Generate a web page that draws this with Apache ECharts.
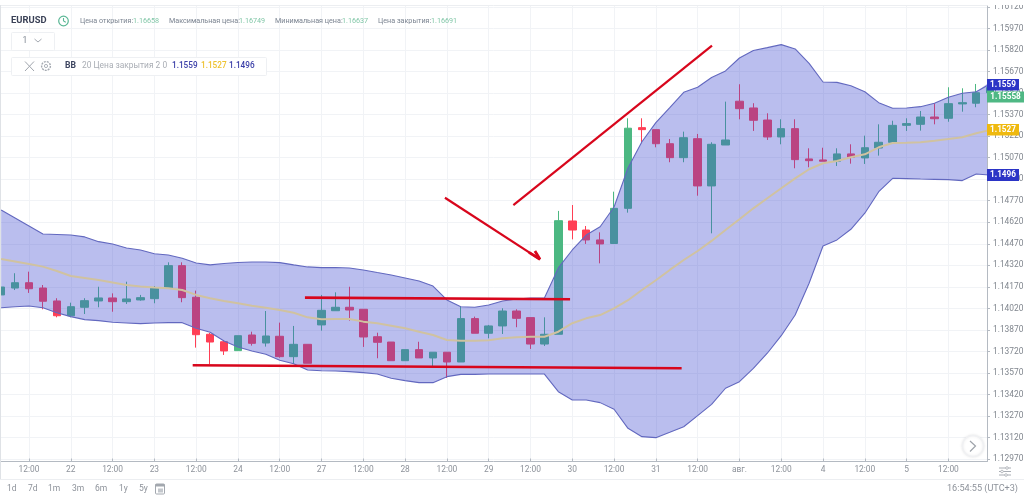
<!DOCTYPE html>
<html><head><meta charset="utf-8">
<style>html,body{margin:0;padding:0;background:#fff}#c{width:1024px;height:499px}</style>
<script src="https://cdn.jsdelivr.net/npm/echarts@6/dist/echarts.min.js"></script>
</head><body><div id="c"></div>
<script>
const opens=[1.14114,1.14162,1.14199,1.14162,1.14072,1.13969,1.14028,1.14072,1.14093,1.14067,1.14079,1.14088,1.14160,1.14318,1.14098,1.13840,1.13788,1.13726,1.13835,1.13779,1.13826,1.13684,1.13770,1.13905,1.14004,1.14028,1.14014,1.13823,1.13786,1.13656,1.13733,1.13675,1.13715,1.13647,1.13949,1.13847,1.13898,1.14002,1.13956,1.13772,1.13840,1.14629,1.14566,1.14497,1.14472,1.14717,1.15279,1.15265,1.15167,1.15070,1.15202,1.14873,1.15158,1.15463,1.15416,1.15332,1.15214,1.15272,1.15061,1.15054,1.15045,1.15096,1.15068,1.15137,1.15177,1.15295,1.15302,1.15353,1.15344,1.15444,1.15449,1.15522];
const closes=[1.14169,1.14199,1.14157,1.14070,1.13969,1.14032,1.14074,1.14093,1.14067,1.14086,1.14095,1.14160,1.14318,1.14095,1.13837,1.13786,1.13724,1.13830,1.13777,1.13828,1.13684,1.13770,1.13638,1.14007,1.14028,1.14009,1.13821,1.13784,1.13656,1.13733,1.13675,1.13715,1.13647,1.13949,1.13847,1.13898,1.14002,1.13951,1.13772,1.13840,1.14631,1.14566,1.14497,1.14469,1.14717,1.15275,1.15265,1.15167,1.15070,1.15209,1.14873,1.15163,1.15193,1.15411,1.15330,1.15214,1.15272,1.15056,1.15049,1.15045,1.15096,1.15073,1.15139,1.15177,1.15295,1.15307,1.15353,1.15341,1.15446,1.15453,1.15522,1.15558];
const lows=[1.14114,1.14148,1.14128,1.14014,1.13958,1.13958,1.13981,1.14028,1.13997,1.14051,1.14074,1.14056,1.14160,1.14063,1.13747,1.13633,1.13696,1.13726,1.13761,1.13754,1.13677,1.13633,1.13638,1.13865,1.14004,1.13935,1.13752,1.13673,1.13656,1.13656,1.13675,1.13619,1.13536,1.13647,1.13847,1.13812,1.13842,1.13889,1.13738,1.13758,1.13840,1.14501,1.14469,1.14334,1.14472,1.14687,1.15170,1.15142,1.15038,1.15038,1.14805,1.14543,1.15158,1.15337,1.15256,1.15193,1.15163,1.14996,1.15003,1.15045,1.15012,1.15028,1.15026,1.15084,1.15177,1.15256,1.15258,1.15302,1.15320,1.15390,1.15421,1.15513];
const highs=[1.14169,1.14265,1.14276,1.14183,1.14091,1.14060,1.14091,1.14171,1.14125,1.14206,1.14114,1.14176,1.14341,1.14341,1.14144,1.13849,1.13800,1.13830,1.13858,1.14002,1.13921,1.13898,1.13770,1.14114,1.14132,1.14171,1.14014,1.13851,1.13786,1.13733,1.13788,1.13715,1.13715,1.14032,1.13963,1.13905,1.14021,1.14014,1.13956,1.13958,1.14699,1.14740,1.14594,1.14550,1.14833,1.15344,1.15344,1.15265,1.15200,1.15251,1.15235,1.15177,1.15460,1.15581,1.15449,1.15379,1.15337,1.15337,1.15135,1.15139,1.15135,1.15163,1.15223,1.15302,1.15327,1.15344,1.15395,1.15449,1.15560,1.15553,1.15583,1.15597];
const bbUpper=[1.14706,1.14650,1.14594,1.14538,1.14535,1.14531,1.14518,1.14485,1.14469,1.14441,1.14427,1.14401,1.14392,1.14369,1.14336,1.14323,1.14333,1.14340,1.14343,1.14343,1.14339,1.14323,1.14309,1.14304,1.14305,1.14302,1.14288,1.14270,1.14253,1.14232,1.14211,1.14176,1.14079,1.14032,1.14028,1.14044,1.14072,1.14086,1.14093,1.14093,1.14302,1.14427,1.14531,1.14589,1.14726,1.14998,1.15181,1.15314,1.15419,1.15525,1.15560,1.15628,1.15674,1.15764,1.15816,1.15836,1.15857,1.15827,1.15726,1.15597,1.15594,1.15571,1.15529,1.15453,1.15414,1.15416,1.15425,1.15449,1.15490,1.15518,1.15529,1.15583];
const bbLower=[1.14025,1.14032,1.14037,1.14025,1.13990,1.13963,1.13942,1.13935,1.13924,1.13919,1.13914,1.13919,1.13921,1.13921,1.13882,1.13854,1.13793,1.13752,1.13724,1.13701,1.13659,1.13635,1.13591,1.13586,1.13584,1.13580,1.13573,1.13563,1.13534,1.13517,1.13503,1.13503,1.13545,1.13561,1.13561,1.13563,1.13563,1.13563,1.13563,1.13563,1.13440,1.13382,1.13382,1.13364,1.13318,1.13185,1.13127,1.13120,1.13157,1.13196,1.13273,1.13352,1.13464,1.13510,1.13603,1.13708,1.13830,1.13974,1.14195,1.14455,1.14497,1.14571,1.14683,1.14833,1.14926,1.14924,1.14921,1.14919,1.14917,1.14910,1.14956,1.14949];
const bbMiddle=[1.14364,1.14347,1.14329,1.14311,1.14281,1.14246,1.14232,1.14218,1.14201,1.14183,1.14173,1.14165,1.14160,1.14148,1.14114,1.14091,1.14072,1.14056,1.14039,1.14025,1.14009,1.13990,1.13958,1.13944,1.13946,1.13946,1.13928,1.13917,1.13900,1.13882,1.13858,1.13835,1.13800,1.13795,1.13795,1.13798,1.13812,1.13819,1.13823,1.13823,1.13858,1.13917,1.13951,1.13974,1.14021,1.14077,1.14148,1.14216,1.14288,1.14357,1.14420,1.14490,1.14566,1.14641,1.14717,1.14787,1.14857,1.14926,1.14989,1.15031,1.15047,1.15073,1.15093,1.15142,1.15172,1.15174,1.15177,1.15188,1.15200,1.15212,1.15240,1.15263];
const xTickIndex=[2,5,8,11,14,17,20,23,26,29,32,35,38,41,44,47,50,53,56,59,62,65,68];
const xTickLabels=['12:00','22','12:00','23','12:00','24','12:00','27','12:00','28','12:00','29','12:00','30','12:00','31','12:00','авг.','12:00','4','12:00','5','12:00'];
const yTicks=[1.1297,1.1312,1.1327,1.1342,1.1357,1.1372,1.1387,1.1402,1.1417,1.1432,1.1447,1.1462,1.1477,1.1492,1.1507,1.1522,1.1537,1.1552,1.1567,1.1582,1.1597,1.1612];
const lineFlat1=[[21.81,1.14095],[40.84,1.14084]];
const lineFlat2=[[13.75,1.13624],[48.85,1.13603]];
const lineRise=[[36.77,1.14740],[51.03,1.15850]];
const arrowShaft=[[31.86,1.14791],[38.68,1.14362]];
const arrowHead=[[37.89,1.14410],[38.68,1.14362],[38.32,1.14420]];
const quoteFields=[['Цена открытия:','1.16658'],['Максимальная цена:','1.16749'],['Минимальная цена:','1.16637'],['Цена закрытия:','1.16691']];
const bbValues=['1.1559','1.1527','1.1496'];
const lastPrice='1.15558';
const rangeButtons=['1d','7d','1m','3m','6m','1y','5y'];

const FONT='Roboto, sans-serif';
const idx=opens.map((_,i)=>i);
const pair=a=>a.map((v,i)=>[i,v]);
const candleData=idx.map(i=>[i,opens[i],closes[i],lows[i],highs[i]]);
const redLine=(data,w)=>({type:'line',data,showSymbol:false,symbol:'none',z:6,silent:true,
  lineStyle:{color:'#d8061c',width:w},itemStyle:{color:'#d8061c'}});

function txt(x,y,text,o){return Object.assign({type:'text',z:50,silent:true,x,y,
  style:Object.assign({text,fill:'#7f8792',font:'400 8px '+FONT,textVerticalAlign:'middle'},o||{})})}
function ln(x1,y1,x2,y2,c,w){return {type:'line',z:50,silent:true,shape:{x1,y1,x2,y2},style:{stroke:c||'#9aa0a8',lineWidth:w||1}}}
function box(x,y,w,h,fill,stroke,r,z){return {type:'rect',z:z||49,silent:true,shape:{x,y,width:w,height:h,r:r||0},style:{fill:fill,stroke:stroke||null,lineWidth:1}}}

const g=[];
g.push(box(0,0,1024,5,'#fff'));
g.push(ln(0,5.5,987,5.5,'#eceef1',1));
g.push(ln(0.5,5,0.5,479,'#dfe2e6',1));
g.push(box(987.5,462,37,37,'#fff'));
g.push(ln(0,479.5,1024,479.5,'#eceef1',1));
// header
g.push(txt(11,21,'EURUSD',{fill:'#3b4257',font:'700 9.4px '+FONT}));
g.push({type:'circle',z:50,silent:true,shape:{cx:63.5,cy:21,r:4.8},style:{fill:'none',stroke:'#5ab795',lineWidth:1.2}});
g.push(ln(63.5,18,63.5,21,'#5ab795',1.1));g.push(ln(63.5,21,65.8,22.2,'#5ab795',1.1));
const qx=[[80,133],[169,239],[275,342],[378,431]];
quoteFields.forEach((q,i)=>{g.push(txt(qx[i][0],21,q[0],{fill:'#7b8491',font:'400 7.2px '+FONT}));g.push(txt(qx[i][1],21,q[1],{fill:'#82c7a8',font:'400 7.2px '+FONT}));});
g.push(box(11.5,32.5,43,18,'#fff','#eef0f3',1));
g.push(txt(22.5,40.5,'1',{fill:'#7f8792',font:'400 8.5px '+FONT}));
g.push({type:'polyline',z:50,silent:true,shape:{points:[[34.5,39],[38,42],[41.5,39]]},style:{stroke:'#a5aab2',fill:'none',lineWidth:1}});
g.push(box(11.5,57.5,255,18,'#fff','#eef0f3',1));
g.push(ln(25,61.5,34,71,'#a0a5ad',1));g.push(ln(34,61.5,25,71,'#a0a5ad',1));
g.push({type:'circle',z:50,silent:true,shape:{cx:46,cy:66,r:4.4},style:{fill:'none',stroke:'#a5aab2',lineWidth:1.4,lineDash:[2,1]}});
g.push({type:'circle',z:50,silent:true,shape:{cx:46,cy:66,r:1.6},style:{fill:'none',stroke:'#a5aab2',lineWidth:0.9}});
g.push(txt(65,66,'BB',{fill:'#3d4560',font:'700 8.6px '+FONT}));
g.push(txt(82,66,'20 Цена закрытия 2 0',{fill:'#a9adb4',font:'400 8.4px '+FONT}));
g.push(txt(172,66,bbValues[0],{fill:'#3b3fa8',font:'500 8.2px '+FONT}));
g.push(txt(201,66,bbValues[1],{fill:'#eec22f',font:'500 8.2px '+FONT}));
g.push(txt(229,66,bbValues[2],{fill:'#3b3fa8',font:'500 8.2px '+FONT}));
// price tags
function tag(y0,h,w,fill,t){g.push(box(987,y0,w,h,fill,null,0,60));
  const e=txt(987+w/2,y0+h/2,t,{fill:'#fff',font:'700 8.2px '+FONT,textAlign:'center'});e.z=61;g.push(e);}
tag(79,11.5,32,'#2b34c6',bbValues[0]);
tag(91.5,11,37,'#4fb884',lastPrice);
tag(124,11.5,32,'#efb90f',bbValues[1]);
tag(169,12,32,'#2b34c6',bbValues[2]);
// next button
g.push({type:'circle',z:50,silent:true,shape:{cx:973,cy:446,r:10.5},style:{fill:'#fff',stroke:'#f0f1f3',lineWidth:1.5,shadowBlur:3,shadowColor:'rgba(0,0,0,0.08)'}});
g.push({type:'polyline',z:51,silent:true,shape:{points:[[970,441],[975.5,446],[970,451.5]]},style:{stroke:'#9ea3aa',fill:'none',lineWidth:1.2}});
// bottom row
const bx=[7,28,48,72,95,119,139];
rangeButtons.forEach((b,i)=>g.push(txt(bx[i],489,b,{fill:'#8d929a',font:'400 8.5px '+FONT})));
g.push(box(155.5,484,9,10,'none','#a3a8af',1));g.push(box(155.5,484,9,2.5,'#a3a8af',null));
g.push(box(158,488.5,5,4,'#c3c7cc',null));
g.push(txt(1018,488.5,'16:54:55 (UTC+3)',{fill:'#8d929a',font:'400 9.1px '+FONT,textAlign:'right'}));
g.push(ln(999,468,1011,468,'#a9adb4',1));g.push(ln(999,471.5,1011,471.5,'#a9adb4',1));g.push(ln(999,475,1011,475,'#a9adb4',1));
[[1007,468],[1002,471.5],[1006,475]].forEach(p=>g.push({type:'circle',z:51,silent:true,shape:{cx:p[0],cy:p[1],r:1.3},style:{fill:'#fff',stroke:'#a9adb4',lineWidth:0.8}}));

const chart=echarts.init(document.getElementById('c'),null,{renderer:'canvas'});
chart.setOption({
  animation:false,backgroundColor:'#fff',
  grid:{left:0,right:37,top:6,bottom:37.5,containLabel:false,outerBoundsMode:'none'},
  xAxis:{type:'value',min:-0.0818,max:70.772,
    axisLine:{onZero:false,lineStyle:{color:'#b4bac2',width:1}},
    axisTick:{customValues:xTickIndex,length:3,inside:true,lineStyle:{color:'#b4bac2'}},
    axisLabel:{customValues:xTickIndex,color:'#8d929a',fontFamily:'Roboto',fontSize:8.4,margin:4,showMinLabel:true,showMaxLabel:true,hideOverlap:false,
      formatter:v=>xTickLabels[xTickIndex.indexOf(Math.round(v))]||''},
    splitLine:{show:true,lineStyle:{color:'#f1f3f6',width:1}}},
  yAxis:{type:'value',position:'right',min:1.12954,max:1.16126,
    axisLine:{show:true,onZero:false,lineStyle:{color:'#b4bac2',width:1}},
    axisTick:{show:true,customValues:yTicks,length:3,lineStyle:{color:'#b4bac2'}},
    axisLabel:{customValues:yTicks,color:'#80868e',fontFamily:'Roboto',fontSize:8.4,margin:6,formatter:v=>v.toFixed(5)},
    splitLine:{show:true,lineStyle:{color:'#f1f3f6',width:1}}},
  tooltip:{show:false},
  series:[
    {type:'candlestick',z:2,barWidth:8,silent:true,encode:{x:0,y:[1,2,3,4]},data:candleData,
      itemStyle:{color:'#4cb882',color0:'#ff3f55',borderColor:'#4cb882',borderColor0:'#ff3f55',borderWidth:1}},
    {type:'custom',name:'bbFill',z:3,silent:true,clip:true,
      encode:{x:0,y:[1,2]},data:idx.map(i=>[i,bbUpper[i],bbLower[i]]),
      renderItem:function(params,api){
        if(params.dataIndex!==0) return null;
        const top=idx.map(i=>api.coord([i,bbUpper[i]]));
        const bot=idx.slice().reverse().map(i=>api.coord([i,bbLower[i]]));
        const cs=params.coordSys;
        const pts=echarts.graphic.clipPointsByRect(top.concat(bot),{x:cs.x,y:cs.y,width:cs.width,height:cs.height});
        return {type:'polygon',shape:{points:pts},style:{fill:'rgba(68,79,209,0.37)',stroke:null}};
      }},
    {type:'line',name:'bbLower',z:3,data:pair(bbLower),showSymbol:false,symbol:'none',silent:true,lineStyle:{color:'#6268bf',width:1.1}},
    {type:'line',name:'bbUpper',z:3,data:pair(bbUpper),showSymbol:false,symbol:'none',silent:true,lineStyle:{color:'#6268bf',width:1.1}},
    {type:'line',name:'bbMiddle',z:4,data:pair(bbMiddle),showSymbol:false,symbol:'none',silent:true,lineStyle:{color:'#d0c2a0',width:2}},
    redLine(lineFlat1,2.6),redLine(lineFlat2,2.6),redLine(lineRise,2.2),redLine(arrowShaft,2.2),redLine(arrowHead,2.8)
  ],
  graphic:g
});
</script></body></html>
